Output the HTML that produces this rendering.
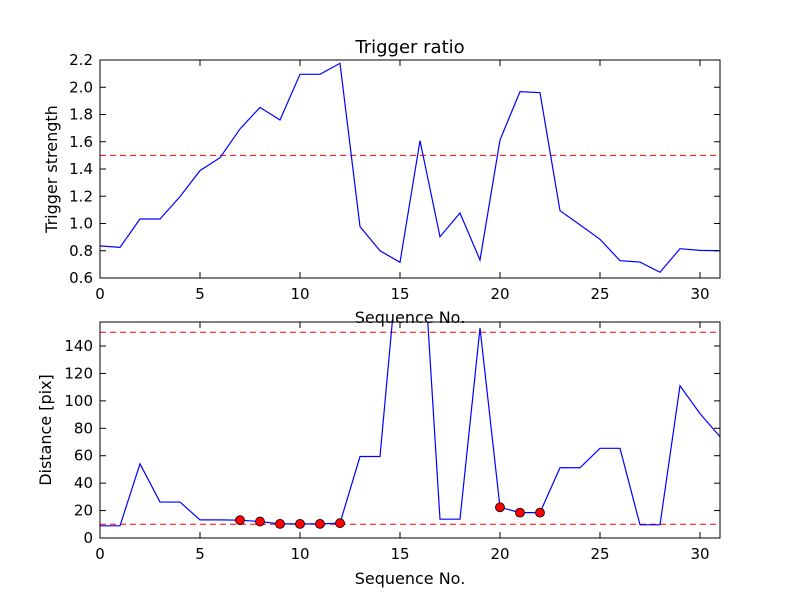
<!DOCTYPE html>
<html><head><meta charset="utf-8"><style>
html,body{margin:0;background:#fff;width:800px;height:600px;overflow:hidden}
svg{font-family:"DejaVu Sans","Liberation Sans",sans-serif;display:block}
</style></head><body>
<svg id="c" width="800" height="600" xmlns="http://www.w3.org/2000/svg"></svg>
<script>
const seq = [0,1,2,3,4,5,6,7,8,9,10,11,12,13,14,15,16,17,18,19,20,21,22,23,24,25,26,27,28,29,30,31];
const strength = [0.836,0.825,1.033,1.033,1.197,1.388,1.483,1.694,1.852,1.76,2.095,2.095,2.176,0.977,0.80,0.715,1.608,0.903,1.077,0.732,1.613,1.968,1.96,1.094,0.99,0.884,0.727,0.717,0.642,0.815,0.803,0.80];
const distance = [8.9,8.9,54.1,26.2,26.2,13.2,13.2,13.0,12.0,10.3,10.3,10.3,10.8,59.4,59.4,219,249,13.7,13.7,153.2,22.4,18.5,18.5,51.2,51.2,65.4,65.4,9.6,9.6,111,90.7,73.8];
const markerIdx = [7,8,9,10,11,12,20,21,22];
const topTicksY = [0.6,0.8,1.0,1.2,1.4,1.6,1.8,2.0,2.2];
const topTickLabels = ["0.6","0.8","1.0","1.2","1.4","1.6","1.8","2.0","2.2"];
const botTicksY = [0,20,40,60,80,100,120,140];
const xTicks = [0,5,10,15,20,25,30];
const strengthThreshold = [1.5];
const distThresholds = [10,150];

const NS="http://www.w3.org/2000/svg";
const svg=document.getElementById('c');
function mk(tag,attrs,parent){const e=document.createElementNS(NS,tag);for(const k in attrs)e.setAttribute(k,attrs[k]);(parent||svg).appendChild(e);return e;}
const L=100,R=720;
const xs=v=>L+(v-0)/31*(R-L);
const T1=60,B1=278, ys1=v=>B1-(v-0.6)/1.6*(B1-T1);
const T2=322,B2=538, ys2=v=>B2-(v-0)/157.5*(B2-T2);

function panel(T,B,name,clip){
  const g=mk('g',{});
  
  
  const cp=mk('clipPath',{id:clip},g);
  mk('rect',{x:L,y:T,width:R-L,height:B-T},cp);
  return g;
}
function axesFrame(g,T,B,ys,yt,ytl,pre){
  const fr=mk('rect',{x:L,y:T,width:R-L,height:B-T,fill:'none',stroke:'#000','stroke-width':1},g);
  
  
  yt.forEach((v,i)=>{const y=ys(v);
    mk('line',{x1:L,x2:L+6,y1:y,y2:y,stroke:'#000'},g);
    mk('line',{x1:R,x2:R-6,y1:y,y2:y,stroke:'#000'},g);
    const t=mk('text',{x:L-7,y:y+5,'text-anchor':'end','font-size':15},g);
    t.textContent=ytl[i];
    
    
  });
  xTicks.forEach(v=>{const x=xs(v);
    mk('line',{x1:x,x2:x,y1:B,y2:B-6,stroke:'#000'},g);
    mk('line',{x1:x,x2:x,y1:T,y2:T+6,stroke:'#000'},g);
    const t=mk('text',{x:x,y:B+21,'text-anchor':'middle','font-size':15},g);
    t.textContent=String(v);
    
    
  });
}
const g1=panel(T1,B1,'strength-panel','cl1');
strengthThreshold.forEach(v=>{const l=mk('line',{x1:L,x2:R,y1:ys1(v),y2:ys1(v),stroke:'#ff0000','stroke-width':1,'stroke-dasharray':'6,4','stroke-linecap':'butt'},g1);
  
  });
const p1=mk('polyline',{points:seq.map((s,i)=>xs(s)+','+ys1(strength[i])).join(' '),fill:'none',stroke:'#00f','stroke-width':1.2,'clip-path':'url(#cl1)'},g1);


axesFrame(g1,T1,B1,ys1,topTicksY,topTickLabels,'top');

const g2=panel(T2,B2,'distance-panel','cl2');
distThresholds.forEach(v=>{const l=mk('line',{x1:L,x2:R,y1:ys2(v),y2:ys2(v),stroke:'#ff0000','stroke-width':1,'stroke-dasharray':'6,4','stroke-linecap':'butt'},g2);
  
  });
const p2=mk('polyline',{points:seq.map((s,i)=>xs(s)+','+ys2(distance[i])).join(' '),fill:'none',stroke:'#00f','stroke-width':1.2,'clip-path':'url(#cl2)'},g2);


markerIdx.forEach(i=>{const c=mk('circle',{cx:xs(seq[i]),cy:ys2(distance[i]),r:4.5,fill:'#f00',stroke:'#000','stroke-width':0.8},g2);
  
  });
axesFrame(g2,T2,B2,ys2,botTicksY,botTicksY.map(String),'bottom');

const title=mk('text',{x:410,y:53,'text-anchor':'middle','font-size':18});
title.textContent='Trigger ratio';


const xt1=mk('text',{x:410,y:323,'text-anchor':'middle','font-size':16});
xt1.textContent='Sequence No.';


const xt2=mk('text',{x:410,y:584,'text-anchor':'middle','font-size':16});
xt2.textContent='Sequence No.';


const yt1=mk('text',{x:0,y:0,'text-anchor':'middle','font-size':16,transform:'translate(57,169) rotate(-90)'});
yt1.textContent='Trigger strength';


const yt2=mk('text',{x:0,y:0,'text-anchor':'middle','font-size':16,transform:'translate(51,430) rotate(-90)'});
yt2.textContent='Distance [pix]';


</script>
</body></html>
